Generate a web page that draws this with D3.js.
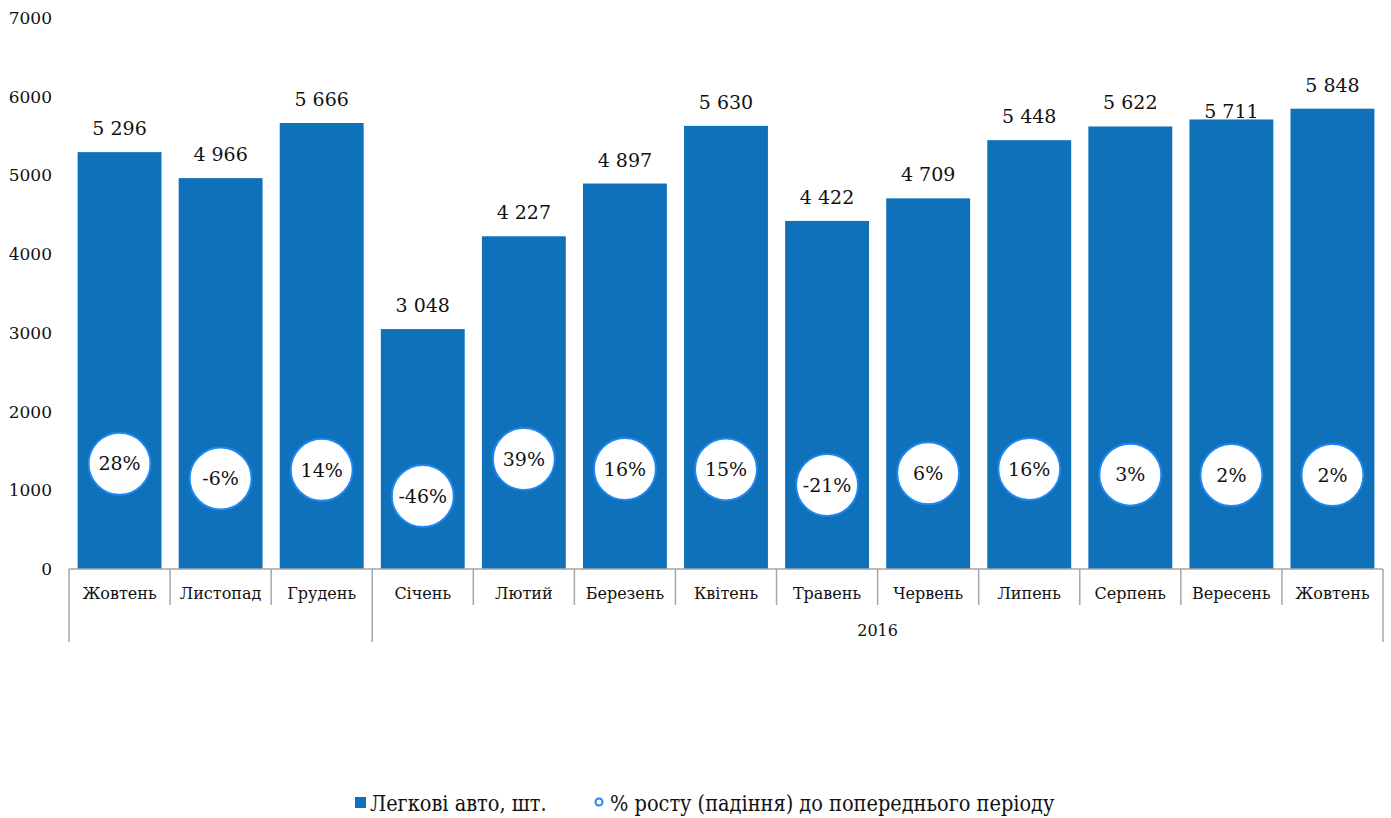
<!DOCTYPE html>
<html>
<head>
<meta charset="utf-8">
<script src="https://cdn.jsdelivr.net/npm/d3@7"></script>
<style>
  html, body { margin: 0; padding: 0; background: #fff; }
  svg { display: block; font-family: "DejaVu Serif", serif; }
</style>
</head>
<body>
<svg id="chart" width="1391" height="818"></svg>
<script>
// Monthly passenger car registrations and month-over-month change
const months = ["Жовтень", "Листопад", "Грудень", "Січень", "Лютий", "Березень", "Квітень",
                "Травень", "Червень", "Липень", "Серпень", "Вересень", "Жовтень"];
const cars = [5296, 4966, 5666, 3048, 4227, 4897, 5630, 4422, 4709, 5448, 5622, 5711, 5848];
const growth = [0.28, -0.06, 0.14, -0.46, 0.39, 0.16, 0.15, -0.21, 0.06, 0.16, 0.03, 0.02, 0.02];
const yTicks = [0, 1000, 2000, 3000, 4000, 5000, 6000, 7000];
const yearGroups = [{ label: "", from: 0, to: 2 }, { label: "2016", from: 3, to: 12 }];
const seriesNames = ["Легкові авто, шт.", "% росту (падіння) до попереднього періоду"];

const barColor = "#0f71ba";
const ringColor = "#1f86f2";
const axisColor = "#a6a6a6";

const svg = d3.select("#chart");
const plotLeft = 69, plotRight = 1383, plotTop = 18, plotBottom = 569;

const x = d3.scaleBand().domain(d3.range(months.length)).range([plotLeft, plotRight]).paddingInner(0.17).paddingOuter(0.085);
const y = d3.scaleLinear().domain([0, 7000]).range([plotBottom, plotTop]);
// secondary (hidden) axis for the percentage markers
const y2 = d3.scaleLinear().domain([-2.14, 10.53]).range([plotBottom, plotTop]);

// y axis labels
const yAxis = svg.append("g").attr("transform", `translate(52,0)`)
  .call(d3.axisLeft(y).tickValues(yTicks).tickSize(0).tickPadding(0).tickFormat(d3.format("d")));
yAxis.select(".domain").remove();
yAxis.selectAll("text").attr("font-size", 17).attr("font-family", "DejaVu Serif").attr("fill", "#111").attr("dy", "0.32em");

// bars
svg.append("g").selectAll("rect").data(cars).join("rect")
  .attr("x", (d, i) => x(i))
  .attr("y", d => y(d))
  .attr("width", x.bandwidth())
  .attr("height", d => y(0) - y(d))
  .attr("fill", barColor);

// value labels above bars
const labelNudge = { 11: 16 };
const fmt = v => d3.format(",")(v).replace(",", " ");
svg.append("g").selectAll("text").data(cars).join("text")
  .attr("x", (d, i) => x(i) + x.bandwidth() / 2)
  .attr("y", (d, i) => y(d) - 17 + (labelNudge[i] || 0))
  .attr("text-anchor", "middle")
  .attr("font-size", 19)
  .attr("fill", "#111")
  .text(fmt);

// category axis
const step = x.step();
const edge = i => plotLeft + i * step;
const ax = svg.append("g");
ax.append("line").attr("x1", plotLeft).attr("x2", plotRight).attr("y1", plotBottom).attr("y2", plotBottom)
  .attr("stroke", axisColor).attr("stroke-width", 1.5);
d3.range(months.length + 1).forEach(i => {
  const isGroupEdge = yearGroups.some(g => g.from === i) || i === months.length;
  ax.append("line").attr("x1", edge(i)).attr("x2", edge(i))
    .attr("y1", plotBottom).attr("y2", isGroupEdge ? 642 : 605)
    .attr("stroke", axisColor).attr("stroke-width", 1.5);
});
ax.selectAll("text.month").data(months).join("text").attr("class", "month")
  .attr("x", (d, i) => edge(i) + step / 2)
  .attr("y", 599)
  .attr("text-anchor", "middle")
  .attr("font-size", 16)
  .attr("fill", "#111")
  .text(d => d);
ax.selectAll("text.year").data(yearGroups).join("text").attr("class", "year")
  .attr("x", g => (edge(g.from) + edge(g.to + 1)) / 2)
  .attr("y", 636)
  .attr("text-anchor", "middle")
  .attr("font-size", 16)
  .attr("fill", "#111")
  .text(g => g.label);

// percentage change markers
const marks = svg.append("g").selectAll("g").data(growth).join("g")
  .attr("transform", (d, i) => `translate(${x(i) + x.bandwidth() / 2},${y2(d)})`);
marks.append("circle").attr("r", 31).attr("fill", "#fff").attr("stroke", ringColor).attr("stroke-width", 2);
marks.append("text")
  .attr("text-anchor", "middle").attr("dy", "0.35em")
  .attr("font-size", 19).attr("fill", "#111")
  .text(d => d3.format(".0%")(d).replace("−", "-"));

// legend
const lg = svg.append("g").attr("transform", "translate(0,803)");
lg.append("rect").attr("x", 355).attr("y", -6).attr("width", 11).attr("height", 11).attr("fill", barColor);
lg.append("text").attr("x", 370).attr("y", 0).attr("dy", "0.35em")
  .attr("font-family", "DejaVu Serif Condensed, DejaVu Serif").attr("font-size", 21.5).attr("fill", "#111")
  .text(seriesNames[0]);
lg.append("circle").attr("cx", 599).attr("cy", -1).attr("r", 3.5).attr("fill", "#fff").attr("stroke", ringColor).attr("stroke-width", 2);
lg.append("text").attr("x", 610).attr("y", 0).attr("dy", "0.35em")
  .attr("font-family", "DejaVu Serif Condensed, DejaVu Serif").attr("font-size", 21.5).attr("fill", "#111")
  .text(seriesNames[1]);
</script>
</body>
</html>
